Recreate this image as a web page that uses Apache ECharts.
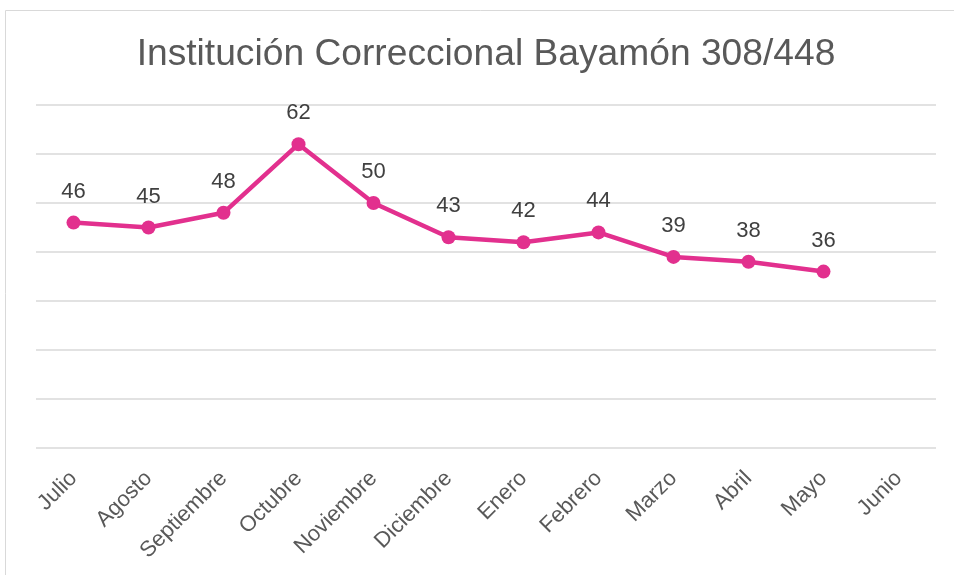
<!DOCTYPE html>
<html>
<head>
<meta charset="utf-8">
<script src="https://cdn.jsdelivr.net/npm/echarts@6/dist/echarts.min.js"></script>
<style>
html,body{margin:0;padding:0;background:#fff;}
#chart{width:954px;height:575px;}
</style>
</head>
<body>
<div id="chart"></div>
<script>
// meses y valores
var meses = ['Julio','Agosto','Septiembre','Octubre','Noviembre','Diciembre','Enero','Febrero','Marzo','Abril','Mayo','Junio'];
var valores = [46,45,48,62,50,43,42,44,39,38,36,null];

var chart = echarts.init(document.getElementById('chart'));
var option = {
    animation: false,
    title: {
        text: 'Institución Correccional Bayamón 308/448',
        left: 485,
        textAlign: 'center',
        top: 31,
        textStyle: {
            fontFamily: 'Liberation Sans',
            fontWeight: 'normal',
            fontSize: 37.2,
            color: '#595959'
        }
    },
    graphic: [{
        type: 'rect',
        shape: {x: 5.5, y: 10.5, width: 960, height: 580},
        style: {fill: 'none', stroke: '#d9d9d9', lineWidth: 1},
        silent: true
    }],
    grid: {left: 36, right: 18, top: 105, bottom: 127},
    xAxis: {
        type: 'category',
        data: meses,
        boundaryGap: true,
        axisLine: {show: false},
        axisTick: {show: false},
        axisLabel: {
            interval: 0,
            rotate: 45,
            margin: 27,
            fontFamily: 'Liberation Sans',
            fontSize: 22,
            color: '#595959'
        }
    },
    yAxis: {
        type: 'value',
        min: 0,
        max: 70,
        interval: 10,
        axisLabel: {show: false},
        axisLine: {show: false},
        axisTick: {show: false},
        splitLine: {lineStyle: {color: '#d9d9d9', width: 1.5}}
    },
    series: [{
        type: 'line',
        data: valores,
        symbol: 'circle',
        symbolSize: 14,
        lineStyle: {color: '#e2308e', width: 4.5},
        itemStyle: {color: '#e2308e'},
        label: {
            show: true,
            position: 'top',
            distance: 13,
            fontFamily: 'Liberation Sans',
            fontSize: 22,
            color: '#404040'
        }
    }]
};
chart.setOption(option);
chart.setOption({title: {left: 481}});
</script>
</body>
</html>
